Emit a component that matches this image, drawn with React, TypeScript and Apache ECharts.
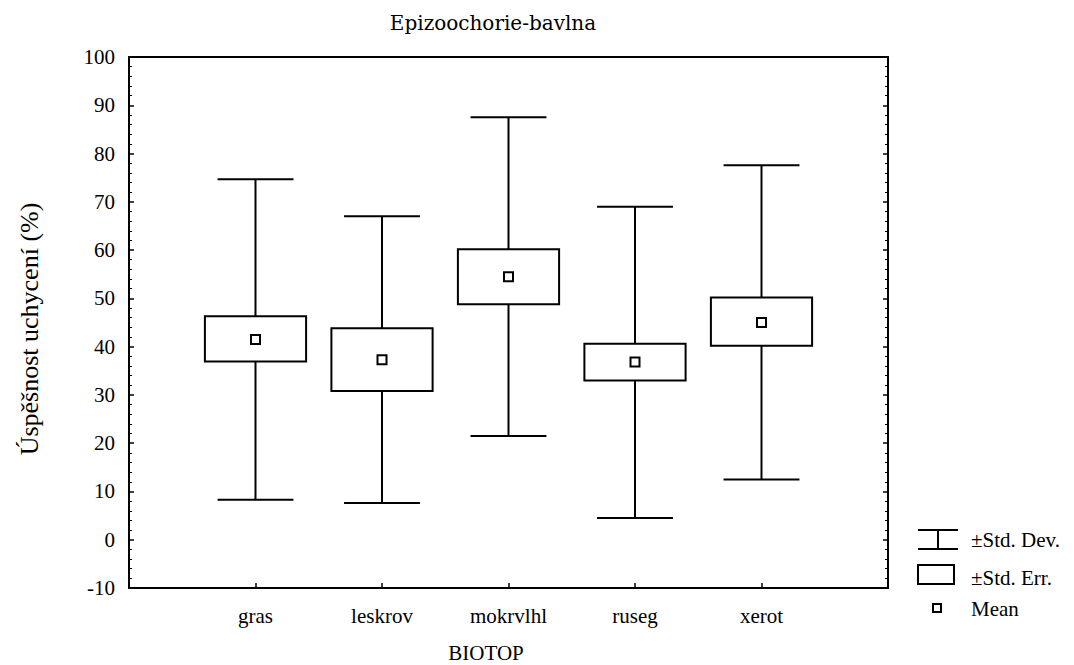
import React, { useEffect, useRef } from "react";
import * as echarts from "echarts";

const categories = ["gras", "leskrov", "mokrvlhl", "ruseg", "xerot"];
const means = [41.5, 37.3, 54.5, 36.8, 45.0];
const seLow = [36.9, 30.8, 48.8, 33.0, 40.2];
const seHigh = [46.3, 43.8, 60.2, 40.6, 50.2];
const sdLow = [8.3, 7.6, 21.5, 4.5, 12.5];
const sdHigh = [74.7, 67.0, 87.5, 69.0, 77.6];
const yTicks = { min: -10, max: 100, interval: 10 };

const SERIF = "Liberation Serif";

export default function App() {
  const ref = useRef<HTMLDivElement>(null);
  useEffect(() => {
    if (!ref.current) return;
    const chart = echarts.init(ref.current, undefined, { renderer: "svg" });
    const axisCats = ["", ...categories, ""];
    const boxData = categories.map((_, i) => [i + 1, sdLow[i], seLow[i], seHigh[i], sdHigh[i]]);
    const meanData = categories.map((_, i) => [i + 1, means[i]]);
    const lineStyle = { stroke: "#000", lineWidth: 2 };

    const option: any = {
      animation: false,
      backgroundColor: "#fff",
      grid: { left: 129, top: 57, right: 186, bottom: 77, containLabel: false },
      xAxis: [
        {
          type: "category",
          data: axisCats,
          boundaryGap: false,
          axisLine: { show: true, onZero: false, lineStyle: { color: "#000", width: 2 } },
          axisTick: {
            show: true,
            inside: true,
            length: 5,
            interval: (idx: number) => idx >= 1 && idx <= categories.length,
            lineStyle: { color: "#000", width: 1.5 },
          },
          axisLabel: {
            interval: 0,
            margin: 17,
            color: "#000",
            fontFamily: SERIF,
            fontSize: 21,
          },
          splitLine: { show: false },
        },
        {
          type: "category",
          data: axisCats,
          boundaryGap: false,
          position: "top",
          axisLine: { show: true, onZero: false, lineStyle: { color: "#000", width: 2 } },
          axisTick: { show: false },
          axisLabel: { show: false },
          splitLine: { show: false },
        },
      ],
      yAxis: [
        {
          type: "value",
          min: yTicks.min,
          max: yTicks.max,
          interval: yTicks.interval,
          axisLine: { show: true, onZero: false, lineStyle: { color: "#000", width: 2 } },
          axisTick: { show: true, inside: true, length: 5, lineStyle: { color: "#000", width: 1.5 } },
          minorTick: { show: true, splitNumber: 5, length: 3, lineStyle: { color: "#000", width: 1 } },
          axisLabel: { color: "#000", fontFamily: SERIF, fontSize: 21, margin: 14 },
          splitLine: { show: false },
        },
        {
          type: "value",
          min: yTicks.min,
          max: yTicks.max,
          interval: yTicks.interval,
          position: "right",
          axisLine: { show: true, onZero: false, lineStyle: { color: "#000", width: 2 } },
          axisTick: { show: true, inside: true, length: 5, lineStyle: { color: "#000", width: 1.5 } },
          minorTick: { show: true, splitNumber: 5, length: 3, lineStyle: { color: "#000", width: 1 } },
          axisLabel: { show: false },
          splitLine: { show: false },
        },
      ],
      series: [
        {
          type: "custom",
          xAxisIndex: 0,
          yAxisIndex: 0,
          data: boxData,
          encode: { x: 0, y: [1, 2, 3, 4] },
          renderItem: (params: any, api: any) => {
            const x = api.value(0);
            const pSdLo = api.coord([x, api.value(1)]);
            const pSeLo = api.coord([x, api.value(2)]);
            const pSeHi = api.coord([x, api.value(3)]);
            const pSdHi = api.coord([x, api.value(4)]);
            const band = api.size([1, 0])[0];
            const boxW = band * 0.8;
            const capW = band * 0.6;
            const cx = pSdLo[0];
            return {
              type: "group",
              children: [
                { type: "line", shape: { x1: cx, y1: pSdHi[1], x2: cx, y2: pSeHi[1] }, style: lineStyle },
                { type: "line", shape: { x1: cx, y1: pSeLo[1], x2: cx, y2: pSdLo[1] }, style: lineStyle },
                { type: "line", shape: { x1: cx - capW / 2, y1: pSdHi[1], x2: cx + capW / 2, y2: pSdHi[1] }, style: lineStyle },
                { type: "line", shape: { x1: cx - capW / 2, y1: pSdLo[1], x2: cx + capW / 2, y2: pSdLo[1] }, style: lineStyle },
                {
                  type: "rect",
                  shape: { x: cx - boxW / 2, y: pSeHi[1], width: boxW, height: pSeLo[1] - pSeHi[1] },
                  style: { fill: "#fff", stroke: "#000", lineWidth: 2 },
                },
              ],
            };
          },
          z: 2,
        },
        {
          type: "scatter",
          xAxisIndex: 0,
          yAxisIndex: 0,
          data: meanData,
          symbol: "rect",
          symbolSize: 9,
          itemStyle: { color: "#fff", borderColor: "#000", borderWidth: 2, opacity: 1 },
          z: 3,
        },
      ],
      graphic: [
        {
          type: "text",
          x: 493,
          y: 23,
          style: {
            text: "Epizoochorie-bavlna",
            fill: "#000",
            font: "20px 'DejaVu Serif'",
            textAlign: "center",
            textVerticalAlign: "middle",
          },
        },
        {
          type: "text",
          x: 486,
          y: 653,
          style: {
            text: "BIOTOP",
            fill: "#000",
            font: `21px '${SERIF}'`,
            textAlign: "center",
            textVerticalAlign: "middle",
          },
        },
        {
          type: "text",
          x: 29,
          y: 329,
          rotation: Math.PI / 2,
          style: {
            text: "Úspěšnost uchycení (%)",
            fill: "#000",
            font: `26px '${SERIF}'`,
            textAlign: "center",
            textVerticalAlign: "middle",
          },
        },
        // legend: Std. Dev.
        { type: "line", shape: { x1: 918, y1: 530, x2: 958, y2: 530 }, style: lineStyle },
        { type: "line", shape: { x1: 938, y1: 530, x2: 938, y2: 549 }, style: lineStyle },
        { type: "line", shape: { x1: 918, y1: 549, x2: 958, y2: 549 }, style: lineStyle },
        {
          type: "text",
          x: 971,
          y: 540,
          style: { text: "±Std. Dev.", fill: "#000", font: `21px '${SERIF}'`, textVerticalAlign: "middle" },
        },
        // legend: Std. Err.
        { type: "rect", shape: { x: 918, y: 565, width: 36, height: 19 }, style: { fill: "#fff", stroke: "#000", lineWidth: 2 } },
        {
          type: "text",
          x: 971,
          y: 578,
          style: { text: "±Std. Err.", fill: "#000", font: `21px '${SERIF}'`, textVerticalAlign: "middle" },
        },
        // legend: Mean
        { type: "rect", shape: { x: 933, y: 604, width: 8, height: 8 }, style: { fill: "#fff", stroke: "#000", lineWidth: 2 } },
        {
          type: "text",
          x: 971,
          y: 609,
          style: { text: "Mean", fill: "#000", font: `21px '${SERIF}'`, textVerticalAlign: "middle" },
        },
      ],
    };
    chart.setOption(option);
    return () => chart.dispose();
  }, []);

  return (
    <div
      ref={ref}
      style={{ position: "absolute", left: 0, top: 0, width: 1074, height: 665, background: "#fff" }}
    />
  );
}
